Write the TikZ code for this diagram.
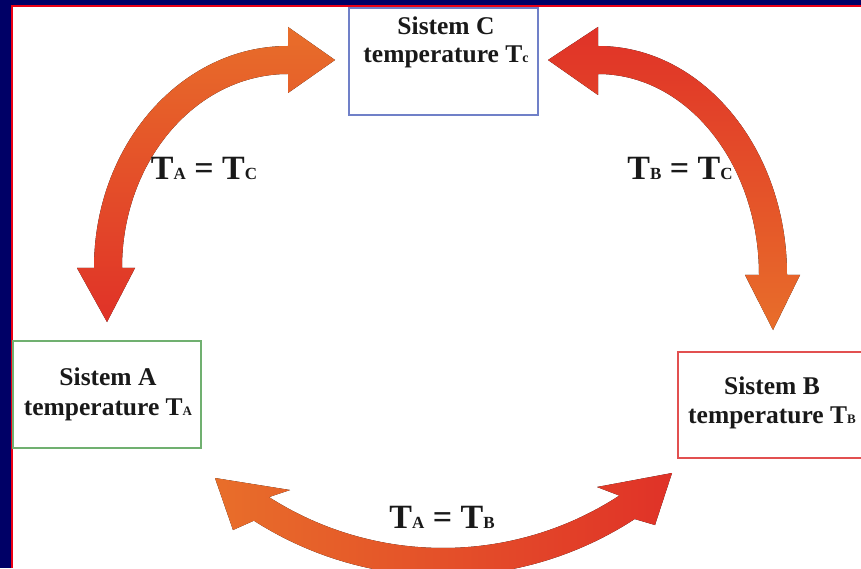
\documentclass[tikz,border=0pt]{standalone}
\usepackage{fontspec}
\setmainfont{Liberation Serif}
\usetikzlibrary{calc}
\definecolor{navyb}{RGB}{0,0,102}
\definecolor{redline}{RGB}{235,0,20}
\definecolor{aor}{RGB}{232,110,42}
\definecolor{ared}{RGB}{224,50,40}
\definecolor{cblue}{RGB}{112,128,200}
\definecolor{agreen}{RGB}{112,176,112}
\definecolor{bred}{RGB}{226,80,80}
\newcommand\bsub[1]{{\fontsize{13}{13}\selectfont #1}}
\newcommand\esub[1]{{\fontsize{17}{17}\selectfont #1}}
\tikzset{
  sysbox/.style={draw, line width=1.4pt, fill=white},
  boxtxt/.style={anchor=base, inner sep=0pt, font=\fontsize{25.5}{28}\selectfont\bfseries, text=black!90},
  eqtxt/.style={anchor=base, inner sep=0pt, font=\fontsize{34}{36}\selectfont\bfseries, text=black!90}
}
\begin{document}
\begin{tikzpicture}[x=1pt,y=1pt]
\useasboundingbox (0,0) rectangle (861,568);
\clip (0,0) rectangle (861,568);
% frame
\fill[navyb] (0,0) rectangle (861,568);
\fill[redline] (11,0) rectangle (861,563);
\fill[white] (12.7,0) rectangle (861,561.2);
% boxes
\draw[sysbox, draw=cblue] (349,453) rectangle (538,560);
\coordinate (C) at (443.5,506.5);
\draw[sysbox, draw=agreen] (13,120) rectangle (201,227);
\coordinate (A) at (107,173.5);
\draw[sysbox, draw=bred] (678,110) rectangle (880,216);
\coordinate (B) at (770,163);
% box texts
\node[boxtxt] (C1) at (446,533) {Sistem C};
\node[boxtxt] (C2) at (446,505) {temperature T\bsub{\fontsize{14}{14}\selectfont c}};
\node[boxtxt] (A1) at (108,183) {Sistem A};
\node[boxtxt] (A2) at (108,153) {temperature T\bsub{A}};
\node[boxtxt] (B1) at (772,174) {Sistem B};
\node[boxtxt] (B2) at (772,145) {temperature T\bsub{B}};
% arrow A--C
\coordinate (c1) at (288,300);
\fill[top color=aor, bottom color=ared]
  (94,300) arc[start angle=180,end angle=90,x radius=194,y radius=222]
  -- (288,541) -- (335,508) -- (288,475) -- (288,494)
  arc[start angle=90,end angle=180,x radius=166,y radius=194]
  -- (135,300) -- (107,246) -- (77,300) -- cycle;
% arrow C--B
\coordinate (c2) at (598,293);
\fill[top color=ared, bottom color=aor]
  (598,522) arc[start angle=90,end angle=0,x radius=189,y radius=229]
  -- (800,293) -- (773,238) -- (745,293) -- (759,293)
  arc[start angle=0,end angle=90,x radius=161,y radius=201]
  -- (598,473) -- (548,508) -- (598,541) -- cycle;
% arrow A--B
\coordinate (c3) at (443,343);
\fill[left color=aor, right color=ared]
  ($(c3)+(237.4:351)$) arc[start angle=237.4,end angle=303.1,radius=351]
  -- (655,43) -- (672,95) -- (597,81)
  -- ($(c3)+(303.1:323)$) arc[start angle=303.1,end angle=237.4,radius=323]
  -- (290,78) -- (215,90) -- (233,38) -- cycle;
% equality labels
\node[eqtxt] (eqAC) at (204,388) {T\esub{A} = T\esub{C}};
\node[eqtxt] (eqBC) at (680,388) {T\esub{B} = T\esub{C}};
\node[eqtxt] (eqAB) at (442,40) {T\esub{A} = T\esub{B}};
\end{tikzpicture}
\end{document}
